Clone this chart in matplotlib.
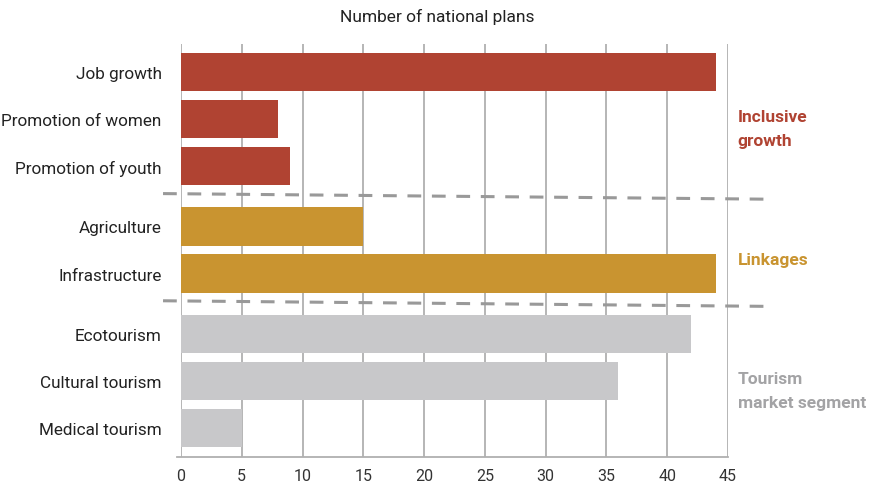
import matplotlib.pyplot as plt
from matplotlib.lines import Line2D

plt.rcParams['font.family'] = ['Roboto', 'DejaVu Sans']

# data, top to bottom
groups = ['Inclusive\ngrowth', 'Linkages', 'Tourism\nmarket segment']
group_colors = ['#b04332', '#c99430', '#c8c8ca']
group_text_colors = ['#b04332', '#c99430', '#a3a3a5']
group_labels = [
    ['Job growth', 'Promotion of women', 'Promotion of youth'],
    ['Agriculture', 'Infrastructure'],
    ['Ecotourism', 'Cultural tourism', 'Medical tourism'],
]
group_values = [
    [44, 8, 9],
    [15, 44],
    [42, 36, 5],
]
xticks = [0, 5, 10, 15, 20, 25, 30, 35, 40, 45]

fig = plt.figure(figsize=(8.79, 4.85), dpi=100)
ax = fig.add_axes([0.206, 0.056, 0.622, 0.851])

gap = 0.28
pos = 0
ypos, labels, group_mid = [], [], []
for i, (labs, vals) in enumerate(zip(group_labels, group_values)):
    if i > 0:
        pos += gap
    ys = [pos + k for k in range(len(vals))]
    ax.barh(ys, vals, height=0.81, color=group_colors[i], zorder=3)
    ypos += ys
    labels += labs
    group_mid.append(sum(ys) / len(ys))
    pos = ys[-1] + 1

# dashed separators between groups
start = 0
for labs in group_labels[:-1]:
    start += len(labs)
    s = (ypos[start - 1] + ypos[start]) / 2
    ax.add_line(Line2D([-0.033, 1.082], [s - 0.06, s + 0.06], color='#999999', lw=2.2,
                       linestyle=(0, (4.5, 3.5)), transform=ax.get_yaxis_transform(),
                       clip_on=False, zorder=4))

# group labels on the right
for mid, name, col in zip(group_mid, groups, group_text_colors):
    ax.text(1.018, mid + 0.2, name, transform=ax.get_yaxis_transform(), color=col,
            fontsize=12.5, fontweight='bold', va='center', ha='left', linespacing=1.75)

ax.set_xlim(0, 45)
ax.set_ylim(ypos[-1] + 0.62, -0.6)
ax.set_yticks(ypos)
ax.set_yticklabels(labels, fontsize=12.3, color='#222222')
ax.set_xticks(xticks)
ax.set_xticklabels([str(t) for t in xticks], fontsize=11.5, color='#333333')
ax.tick_params(axis='y', length=0, pad=14)
ax.tick_params(axis='x', length=0, pad=8)
ax.grid(axis='x', color='#b0b0b0', lw=1.3, zorder=0)
for sp in ['top', 'right', 'left']:
    ax.spines[sp].set_visible(False)
ax.spines['bottom'].set_color('#b0b0b0')
ax.spines['bottom'].set_linewidth(1.3)
ax.spines['bottom'].set_bounds(-0.3, 45)

fig.text(0.497, 0.965, 'Number of national plans', ha='center', va='center',
         fontsize=12.5, color='#222222')

fig.savefig('out.png', dpi=100)
